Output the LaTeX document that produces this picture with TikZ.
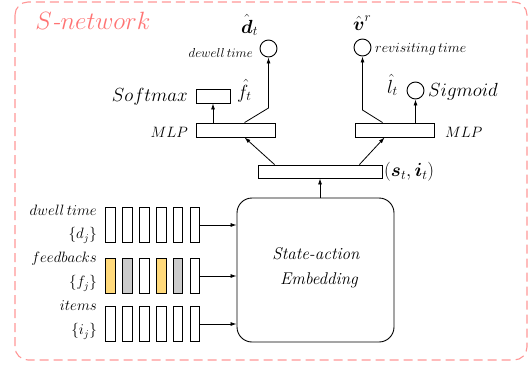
\RequirePackage{fix-cm}
\documentclass[tikz,border=0pt]{standalone}
\usepackage{amsmath}
\usetikzlibrary{arrows.meta,calc}
\definecolor{dashred}{RGB}{255,150,150}
\definecolor{titred}{RGB}{255,115,115}
\definecolor{fyellow}{RGB}{255,217,122}
\definecolor{fgray}{RGB}{204,204,204}
\newcommand{\myfs}[1]{\fontsize{#1}{#1}\selectfont}
\begin{document}
\begin{tikzpicture}[x=1pt,y=-1pt,
  box/.style={draw, line width=0.9pt, inner sep=0pt, fill=white},
  bar/.style={draw, line width=0.9pt, inner sep=0pt, minimum width=9.5, minimum height=35},
  arr/.style={-{Latex[length=6pt,width=4pt]}, line width=0.8pt},
  circ/.style={draw, circle, line width=0.9pt, minimum size=17, inner sep=0pt},
  big/.style={inner sep=0pt, font=\myfs{19}},
  mid/.style={inner sep=0pt, font=\myfs{15}},
  small/.style={inner sep=0pt, font=\myfs{13}}]
\useasboundingbox (0,0) rectangle (532,364);
% border
\draw[dashred, line width=1.1pt, dash pattern=on 9pt off 5pt, rounded corners=13] (15,2) rectangle (527,360);
\node[inner sep=0pt, text=titred, font=\myfs{25}] (title) at (93,21) {$S$\textit{-}$network$};
% embedding
\node[box, rounded corners=15, minimum width=157, minimum height=144] (emb) at (315.5,270) {};
\node[inner sep=0pt, font=\myfs{17}\itshape, align=center] (embt) at (316,268) {State-action\\[8pt]\ Embedding};
% state-action box
\node[box, minimum width=124, minimum height=13] (si) at (320,171.5) {};
\node[big, anchor=west] (sil) at (384,171.5) {$(\boldsymbol{s}_t,\boldsymbol{i}_t)$};
% MLP boxes
\node[box, minimum width=79, minimum height=14] (mlpL) at (235.5,130) {};
\node[box, minimum width=79, minimum height=14] (mlpR) at (394.5,130) {};
\node[mid, anchor=base east] (mlpLt) at (188,137) {$MLP$};
\node[mid, anchor=base west] (mlpRt) at (445,137) {$MLP$};
% softmax
\node[box, minimum width=34, minimum height=14] (sm) at (213,96) {};
\node[big, anchor=base east] (smt) at (188,101) {$Softmax$};
\node[big, anchor=base west] (fh) at (237,98) {$\hat{f}_t$};
% circles
\node[circ] (dC) at (268.5,48.5) {};
\node[circ] (vC) at (362.5,47.5) {};
\node[circ] (lC) at (415.5,90.5) {};
\node[big, anchor=base west] (dh) at (241,33) {$\hat{\boldsymbol{d}}_t$};
\node[big, anchor=base west] (vh) at (353,30) {$\hat{\boldsymbol{v}}^r$};
\node[big, anchor=base east] (lh) at (398,93) {$\hat{l}_t$};
\node[big, anchor=base west] (sg) at (428,96) {$Sigmoid$};
\node[small, anchor=base east] (dwt) at (253,57) {$dewell\,time$};
\node[font=\myfs{14}, inner sep=0pt, anchor=base west] (rvt) at (375,52) {$revisiting\,time$};
% connectors
\coordinate (dk) at (268.5,108);
\coordinate (vk) at (362.5,110);
\draw[arr] (emb.north -| si.south) -- (si.south);
\draw[arr] ($(si.north west)+(17,0)$) -- ($(mlpL.south west)+(49,0)$);
\draw[arr] ($(si.north east)+(-23,0)$) -- ($(mlpR.south west)+(30,0)$);
\draw[arr] (sm.south |- mlpL.north) -- (sm.south);
\draw[arr] ($(mlpL.north west)+(49,0)$) -- (dk) -- (dC.south);
\draw[arr] ($(mlpR.north west)+(28,0)$) -- (vk) -- (vC.south);
\draw[arr] (lC.south |- mlpR.north) -- (lC.south);
% bars
\foreach \k in {1,...,6} {
  \node[bar, fill=white] (b1\k) at ({110.5+16.9*(\k-1)},225) {};
  \node[bar, fill=white] (b3\k) at ({110.5+16.9*(\k-1)},324) {};
}
\foreach \k/\c in {1/fyellow,2/fgray,3/white,4/fyellow,5/fgray,6/white}
  \node[bar, fill=\c] (b2\k) at ({110.5+16.9*(\k-1)},276) {};
\foreach \r in {1,2,3}
  \draw[arr] (b\r6.east) -- (b\r6.east -| emb.west);
% labels
\node[mid, anchor=base east] (l1) at (97,215) {$dwell\,time$};
\node[mid, anchor=east] (l1b) at (97,235.5) {$\{d_j\}$};
\node[mid, anchor=base east] (l2) at (97,262) {$feedbacks$};
\node[mid, anchor=east] (l2b) at (97,283.5) {$\{f_j\}$};
\node[mid, anchor=base east] (l3) at (97,310) {$items$};
\node[mid, anchor=east] (l3b) at (97,331.5) {$\{i_j\}$};
\end{tikzpicture}
\end{document}
